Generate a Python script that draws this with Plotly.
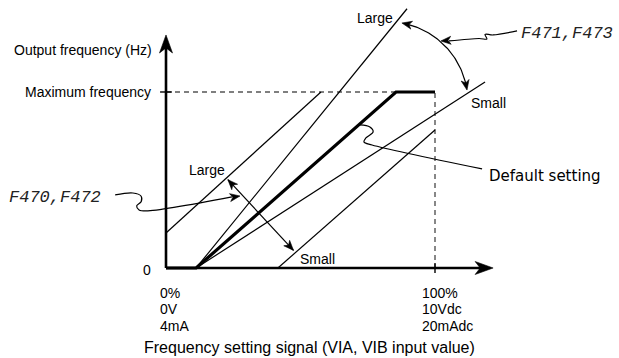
import numpy as np
import plotly.graph_objects as go

# ---- values (x: input signal in % of full scale, y: output in % of max frequency)
bias_point = 11.2
default_x = [0, bias_point, 85.5, 100]
default_y = [0, 0, 100, 100]

gain_large_x = [bias_point, 89.6]
gain_large_y = [0, 147.3]
gain_small_x = [bias_point, 118.6]
gain_small_y = [0, 105.7]

bias_large_x = [0, 57.6]
bias_large_y = [19.9, 100]
bias_small_x = [41.6, 100]
bias_small_y = [0, 78.4]

max_freq_x = [0, 100, 100]
max_freq_y = [100, 100, 0]

tick_low = ["0%", "0V", "4mA"]
tick_high = ["100%", "10Vdc", "20mAdc"]

# ---- canvas
W, H = 619, 358
X_RANGE = [-61.71, 168.40]
Y_RANGE = [-51.14, 152.27]
PX_X = W / (X_RANGE[1] - X_RANGE[0])
PX_Y = H / (Y_RANGE[1] - Y_RANGE[0])

FONT = "Liberation Sans, Arial, sans-serif"
fig = go.Figure()


def line(x, y, width=1.2, color="black", dash=None, shape="linear"):
    fig.add_trace(go.Scatter(x=x, y=y, mode="lines", hoverinfo="skip",
                             line=dict(width=width, color=color, dash=dash, shape=shape)))


def head(tip, frm, length=10, width=8, notch=0.72):
    """Filled barbed arrowhead at `tip`, pointing away from `frm` (data coords)."""
    dx = (tip[0] - frm[0]) * PX_X
    dy = (tip[1] - frm[1]) * PX_Y
    n = np.hypot(dx, dy)
    ux, uy = dx / n, dy / n
    px, py = -uy, ux
    pts = [(0, 0),
           (-ux * length + px * width / 2, -uy * length + py * width / 2),
           (-ux * length * notch, -uy * length * notch),
           (-ux * length - px * width / 2, -uy * length - py * width / 2),
           (0, 0)]
    xs = [tip[0] + a / PX_X for a, b in pts]
    ys = [tip[1] + b / PX_Y for a, b in pts]
    fig.add_trace(go.Scatter(x=xs, y=ys, mode="lines", fill="toself",
                             fillcolor="black", hoverinfo="skip",
                             line=dict(width=0.6, color="black")))


def text(x, y, s, size=14, anchor="center", family=FONT, italic=False, color="black"):
    fig.add_annotation(x=x, y=y, text=s, showarrow=False, xanchor=anchor,
                       yanchor="middle",
                       font=dict(size=size, family=family, color=color,
                                 style="italic" if italic else "normal"))


# guides to maximum frequency / 100 %
line(max_freq_x, max_freq_y, width=1.4, color="#555555", dash="5px,4px")

# characteristic lines
line(gain_large_x, gain_large_y)
line(gain_small_x, gain_small_y)
line(bias_large_x, bias_large_y)
line(bias_small_x, bias_small_y)
line(default_x, default_y, width=3.2)

# axes with arrows
y_top = 132.4
x_end = 121.6
line([0, 0], [0, y_top - 6], width=2.6)
line([0, x_end - 4], [0, 0], width=2.6)
head((0, y_top), (0, 0), length=18, width=13)
head((x_end, 0), (0, 0), length=18, width=13)
# ticks
line([-2.2, 2.2], [100, 100], width=1.4)
line([100, 100], [-2.8, 2.8], width=1.4)

# bias adjustment double arrow
ba = [(23.0, 50.2), (47.4, 10.0)]
line([ba[0][0], ba[1][0]], [ba[0][1], ba[1][1]], width=1.2)
head(ba[0], ba[1], length=10, width=8)
head(ba[1], ba[0], length=10, width=8)

# gain adjustment arc (circle through three points, computed in screen space)
arc_pts = [(87.7, 139.2), (102.2, 128.4), (111.9, 101.1)]
P = np.array([[x * PX_X, y * PX_Y] for x, y in arc_pts])
(ax_, ay_), (bx_, by_), (cx_, cy_) = P
d = 2 * (ax_ * (by_ - cy_) + bx_ * (cy_ - ay_) + cx_ * (ay_ - by_))
ux_c = ((ax_**2 + ay_**2) * (by_ - cy_) + (bx_**2 + by_**2) * (cy_ - ay_) + (cx_**2 + cy_**2) * (ay_ - by_)) / d
uy_c = ((ax_**2 + ay_**2) * (cx_ - bx_) + (bx_**2 + by_**2) * (ax_ - cx_) + (cx_**2 + cy_**2) * (bx_ - ax_)) / d
r = np.hypot(ax_ - ux_c, ay_ - uy_c)
t0 = np.arctan2(ay_ - uy_c, ax_ - ux_c)
t1 = np.arctan2(cy_ - uy_c, cx_ - ux_c)
tt = np.linspace(t0, t1, 60)
arc_x = (ux_c + r * np.cos(tt)) / PX_X
arc_y = (uy_c + r * np.sin(tt)) / PX_Y
line(list(arc_x[3:-3]), list(arc_y[3:-3]), width=1.2)
head((arc_x[0], arc_y[0]), (arc_x[4], arc_y[4]), length=10, width=8)
head((arc_x[-1], arc_y[-1]), (arc_x[-5], arc_y[-5]), length=10, width=8)

# leader lines
lead_470 = [(-18.9, 41.5), (-12.3, 42.6), (-9.3, 40.9), (-9.2, 37.8), (-10.9, 35.3),
            (-10.0, 33.0), (-7.4, 32.4), (27.5, 40.9)]
line([p[0] for p in lead_470[:-1]] + [lead_470[-1][0] - 3],
     [p[1] for p in lead_470[:-1]] + [lead_470[-1][1] - 0.5], shape="spline")
head(lead_470[-1], lead_470[-2], length=10, width=8)

lead_471 = [(130.5, 134.7), (121.6, 132.4), (118.6, 132.7), (119.3, 130.1),
            (116.4, 130.4), (102.2, 129.0)]
line([p[0] for p in lead_471[:-1]] + [lead_471[-1][0] + 3],
     [p[1] for p in lead_471[:-1]] + [lead_471[-1][1]], shape="spline")
head(lead_471[-1], lead_471[-2], length=10, width=8)

lead_def = [(72.1, 81.3), (75.8, 80.1), (77.0, 77.3), (74.3, 73.9), (73.6, 71.6),
            (76.6, 69.9), (117.5, 56.3)]
line([p[0] for p in lead_def], [p[1] for p in lead_def], shape="spline")

# labels
text(-4.5, 123.9, "Output frequency (Hz)", anchor="right")
text(-4.8, 100, "Maximum frequency", anchor="right")
text(-7.0, -1.1, "0", anchor="center")
for i, (lo, hi) in enumerate(zip(tick_low, tick_high)):
    yy = [-14.2, -23.3, -33.0][i]
    text(-3.0, yy, lo, anchor="left")
    text(94.4, yy, hi, anchor="left")
text(53.5, -44.9, "Frequency setting signal (VIA, VIB input value)", size=16)

text(15.4, 55.7, "Large")
text(56.5, 5.1, "Small")
text(77.7, 142.0, "Large")
text(119.9, 93.8, "Small")
text(119.3, 52.3, "Default setting", anchor="left", size=15,
     family="DejaVu Sans, Liberation Sans, sans-serif")
text(-59.1, 39.8, "F470,F472", size=17, anchor="left",
     family="Liberation Mono, DejaVu Sans Mono, monospace", italic=True, color="#222222")
text(131.2, 133.5, "F471,F473", size=17, anchor="left",
     family="Liberation Mono, DejaVu Sans Mono, monospace", italic=True, color="#222222")

fig.update_layout(
    width=W, height=H, autosize=False,
    margin=dict(l=0, r=0, t=0, b=0),
    paper_bgcolor="white", plot_bgcolor="white",
    showlegend=False,
    xaxis=dict(range=X_RANGE, visible=False, fixedrange=True),
    yaxis=dict(range=Y_RANGE, visible=False, fixedrange=True),
)
fig.write_html("out.html")
